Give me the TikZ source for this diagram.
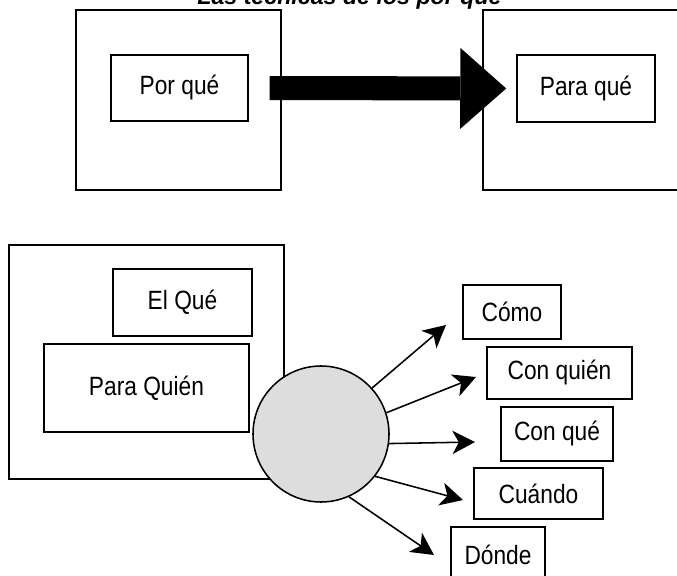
\documentclass[tikz,border=0pt]{standalone}
\usepackage{fontspec}
\setmainfont{Liberation Sans}[FakeStretch=0.86]
\newfontfamily\titlefont{Liberation Sans}
\usetikzlibrary{arrows.meta}
\def\u{0.025cm}
\definecolor{discgray}{RGB}{221,221,221}

\begin{document}
\begin{tikzpicture}[
    x=\u, y=-\u,
    line width=1.1pt,
    box/.style 2 args={draw, inner sep=0, minimum width={#1*\u}, minimum height={#2*\u},
      font=\fontsize{18.8}{22}\selectfont},
    disc/.style={circle, draw, fill=discgray, minimum size={136*\u}, inner sep=0},
    ray/.style={-{Stealth[length=16pt,width=16.5pt,inset=4.5pt]}},
    bigarrow/.style={line width=17.1pt, -{Triangle[length=32.7pt,width=57.6pt,line width=0pt]},
      shorten <=14.9pt, shorten >=7.1pt}
  ]
  \useasboundingbox (0,0) rectangle (677,576);

  % Title
  \node[font=\titlefont\fontsize{16.5}{20}\bfseries\itshape\selectfont, anchor=base, inner sep=0]
    (title) at (349.5,5) {Las técnicas de los por qué};

  % Top row
  \node[box={205}{180}] (leftframe) at (178.5,100) {};
  \node[box={205}{180}] (rightframe) at (585.5,100) {};
  \node[box={137}{66}] (porque) at (179.5,88) {Por qué};
  \node[box={138}{67}] (paraque) at (586,88.5) {Para qué};
  \draw[bigarrow] (porque.east) -- (paraque.west);

  % Bottom part
  \node[box={275}{234}] (mainframe) at (146.5,362) {};
  \node[box={139}{67}] (elque) at (182.5,302.5) {El Qué};
  \node[box={205}{88}] (paraquien) at (146.5,388) {Para Quién};
  \node[disc] (hub) at (321,434) {};

  \node[box={98}{54}] (como) at (512,312) {Cómo};
  \node[box={145}{52}] (conquien) at (559.5,373) {Con quién};
  \node[box={112}{54}] (conque) at (557,434) {Con qué};
  \node[box={129}{51}] (cuando) at (538.5,493.5) {Cuándo};
  \node[box={94}{55}] (donde) at (498,554.5) {Dónde};

  % Arrow tips
  \coordinate (t1) at (446,325);
  \coordinate (t2) at (476,377);
  \coordinate (t3) at (475,442);
  \coordinate (t4) at (463,500);
  \coordinate (t5) at (434,555);

  \foreach \a/\t in {42/t1,18/t2,-8/t3,-38/t4,-66/t5}
    \draw[ray] (hub.\a) -- (\t);
\end{tikzpicture}
\end{document}
